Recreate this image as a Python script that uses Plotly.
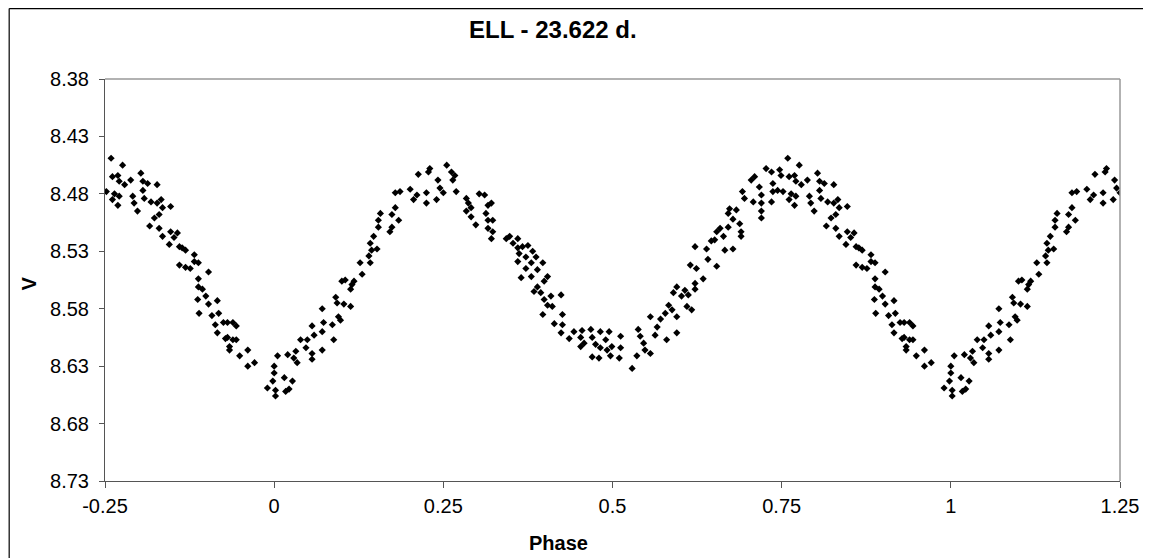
"""ELL light curve, V magnitude folded on a 23.622 d period."""

import plotly.graph_objects as go

# Phase-folded observations (one cycle, phase 0..1)
PHASE = [
    0.931, 0.939, 0.944, 0.931, 0.939, 0.944, 0.934, 0.934, 0.949, 0.961,
    0.961, 0.971, 0.998, 0.990,
    0.005, 0.000, 0.000, 0.002, 0.002, 0.015, 0.017, 0.022, 0.027, 0.020,
    0.032, 0.029, 0.034, 0.039, 0.049, 0.047, 0.056, 0.056, 0.056,
    0.059, 0.071, 0.071, 0.073, 0.086, 0.088, 0.071, 0.091, 0.093, 0.095,
    0.098, 0.103, 0.113, 0.100, 0.105, 0.115, 0.113, 0.118, 0.130, 0.127,
    0.142, 0.140, 0.144, 0.142, 0.147, 0.152, 0.157, 0.154, 0.154, 0.171,
    0.174, 0.174, 0.179, 0.184, 0.179, 0.186, 0.201, 0.206, 0.211, 0.213,
    0.225, 0.228, 0.230, 0.225, 0.240, 0.242, 0.245, 0.250, 0.255,
    0.262, 0.267, 0.264, 0.269, 0.284, 0.287, 0.284, 0.291, 0.291, 0.298,
    0.303, 0.311, 0.316, 0.321, 0.313, 0.316, 0.323, 0.316, 0.323, 0.321,
    0.343, 0.348, 0.353, 0.360, 0.360, 0.367, 0.362, 0.375, 0.372, 0.382,
    0.387, 0.380, 0.372, 0.360, 0.365, 0.380, 0.389, 0.397, 0.404, 0.399,
    0.389, 0.384, 0.394, 0.399, 0.409, 0.424, 0.404, 0.411, 0.397, 0.414,
    0.426, 0.426, 0.424, 0.436, 0.443, 0.455, 0.453, 0.458, 0.468, 0.470,
    0.475, 0.482, 0.482, 0.490, 0.492, 0.470, 0.480, 0.453,
    0.495, 0.499, 0.497, 0.512, 0.512, 0.510, 0.529, 0.536, 0.538, 0.541,
    0.546, 0.548, 0.556, 0.556, 0.563, 0.566, 0.571, 0.580, 0.578, 0.583,
    0.588, 0.595, 0.595, 0.590, 0.595, 0.602, 0.607, 0.610, 0.617, 0.612,
    0.622, 0.622, 0.634, 0.615, 0.624, 0.641, 0.654, 0.622, 0.639, 0.646,
    0.651, 0.654, 0.664, 0.666, 0.678, 0.659, 0.671, 0.673, 0.671, 0.678,
    0.683, 0.688, 0.690, 0.690, 0.692, 0.695, 0.705, 0.710, 0.708, 0.717,
    0.720, 0.720, 0.720, 0.720, 0.727, 0.735, 0.737, 0.737, 0.735,
    0.759, 0.776, 0.747, 0.749, 0.761, 0.769, 0.771, 0.779, 0.788, 0.744,
    0.752, 0.764, 0.761, 0.771, 0.769, 0.803, 0.806, 0.813, 0.806, 0.827,
    0.791, 0.793, 0.798, 0.808, 0.818, 0.827, 0.833, 0.835, 0.847, 0.830,
    0.823, 0.816, 0.830, 0.835, 0.847, 0.857, 0.852, 0.845, 0.860, 0.864,
    0.869, 0.882, 0.882, 0.860, 0.869, 0.876, 0.888, 0.903, 0.888, 0.888,
    0.894, 0.887, 0.899, 0.903, 0.916, 0.889, 0.908, 0.918, 0.913, 0.925,
    0.916, 0.928,
]
V_MAG = [
    8.592, 8.592, 8.595, 8.605, 8.607, 8.607, 8.613, 8.616, 8.621, 8.616,
    8.630, 8.627, 8.643, 8.649,
    8.621, 8.630, 8.636, 8.651, 8.656, 8.640, 8.652, 8.650, 8.643, 8.620,
    8.617, 8.623, 8.627, 8.607, 8.607, 8.614, 8.595, 8.619, 8.624,
    8.603, 8.600, 8.616, 8.592, 8.594, 8.607, 8.580, 8.570, 8.575, 8.587,
    8.590, 8.576, 8.578, 8.556, 8.555, 8.559, 8.563, 8.556, 8.550, 8.540,
    8.540, 8.534, 8.529, 8.523, 8.517, 8.528, 8.497, 8.503, 8.509, 8.513,
    8.509, 8.498, 8.492, 8.503, 8.479, 8.478, 8.476, 8.485, 8.481, 8.463,
    8.488, 8.461, 8.458, 8.479, 8.485, 8.468, 8.475, 8.479, 8.455,
    8.461, 8.464, 8.468, 8.478, 8.484, 8.488, 8.495, 8.492, 8.500, 8.507,
    8.480, 8.481, 8.490, 8.488, 8.497, 8.503, 8.503, 8.510, 8.513, 8.519,
    8.519, 8.517, 8.523, 8.519, 8.527, 8.526, 8.532, 8.525, 8.535, 8.530,
    8.535, 8.540, 8.545, 8.539, 8.553, 8.552, 8.546, 8.540, 8.552, 8.556,
    8.561, 8.565, 8.566, 8.572, 8.569, 8.568, 8.577, 8.578, 8.585, 8.593,
    8.585, 8.594, 8.601, 8.606, 8.600, 8.599, 8.605, 8.610, 8.598, 8.605,
    8.611, 8.600, 8.614, 8.607, 8.616, 8.622, 8.623, 8.613,
    8.600, 8.613, 8.621, 8.604, 8.614, 8.623, 8.632, 8.621, 8.598, 8.604,
    8.610, 8.616, 8.619, 8.587, 8.603, 8.596, 8.589, 8.607, 8.584, 8.577,
    8.581, 8.587, 8.601, 8.566, 8.561, 8.569, 8.564, 8.578, 8.581, 8.568,
    8.558, 8.563, 8.554, 8.542, 8.545, 8.537, 8.543, 8.526, 8.528, 8.521,
    8.520, 8.513, 8.517, 8.529, 8.528, 8.510, 8.509, 8.493, 8.497, 8.502,
    8.494, 8.506, 8.513, 8.517, 8.478, 8.484, 8.468, 8.465, 8.487, 8.474,
    8.481, 8.488, 8.495, 8.501, 8.458, 8.461, 8.471, 8.478, 8.487,
    8.449, 8.455, 8.459, 8.464, 8.465, 8.464, 8.469, 8.472, 8.468, 8.477,
    8.478, 8.480, 8.485, 8.482, 8.490, 8.462, 8.469, 8.471, 8.477, 8.472,
    8.482, 8.488, 8.495, 8.484, 8.487, 8.488, 8.485, 8.492, 8.491, 8.498,
    8.501, 8.508, 8.510, 8.517, 8.513, 8.514, 8.518, 8.524, 8.526, 8.527,
    8.529, 8.533, 8.539, 8.542, 8.544, 8.545, 8.540, 8.548, 8.554, 8.561,
    8.563, 8.572, 8.569, 8.576, 8.573, 8.584, 8.586, 8.584, 8.594, 8.592,
    8.601, 8.606,
]

X_TICKS = [-0.25, 0, 0.25, 0.5, 0.75, 1, 1.25]
X_LABELS = ["-0.25", "0", "0.25", "0.5", "0.75", "1", "1.25"]
Y_TICKS = [8.38, 8.43, 8.48, 8.53, 8.58, 8.63, 8.68, 8.73]
Y_LABELS = ["8.38", "8.43", "8.48", "8.53", "8.58", "8.63", "8.68", "8.73"]

TITLE = "ELL - 23.622 d."
FONT = "Liberation Sans, Arial, sans-serif"

# Show the cycle from -0.25 to 1.25: wrap the last and first quarters
x_all, y_all = list(PHASE), list(V_MAG)
for p, v in zip(PHASE, V_MAG):
    if p >= 0.75:
        x_all.append(p - 1)
        y_all.append(v)
    if p <= 0.25:
        x_all.append(p + 1)
        y_all.append(v)

fig = go.Figure()
fig.add_trace(
    go.Scatter(
        x=x_all,
        y=y_all,
        mode="markers",
        marker=dict(symbol="diamond", size=5.5, color="#000000", line=dict(width=0)),
        showlegend=False,
        hoverinfo="x+y",
    )
)

axis_common = dict(
    showgrid=False,
    zeroline=False,
    tickfont=dict(family=FONT, size=20, color="#000000"),
)

# page body adds an 8px offset: figure sized to fit the window, margins shifted
fig.update_layout(
    width=1143,
    height=550,
    margin=dict(l=97, r=25, t=71, b=77),
    paper_bgcolor="#ffffff",
    plot_bgcolor="#ffffff",
    font=dict(family=FONT, color="#000000"),
    xaxis=dict(
        range=[-0.25, 1.25],
        tickvals=X_TICKS,
        ticktext=X_LABELS,
        ticks="outside",
        ticklen=6,
        tickcolor="#555555",
        showline=True,
        linecolor="#555555",
        linewidth=1,
        ticklabelstandoff=1,
        **axis_common,
    ),
    yaxis=dict(
        range=[8.73, 8.38],
        tickvals=Y_TICKS,
        ticktext=Y_LABELS,
        ticks="outside",
        ticklen=5,
        tickcolor="#555555",
        showline=True,
        linecolor="#555555",
        linewidth=1,
        ticklabelstandoff=6,
        **axis_common,
    ),
    # inside halves of the cross tick marks
    xaxis2=dict(
        range=[-0.25, 1.25],
        tickvals=X_TICKS,
        ticks="inside",
        ticklen=6,
        tickcolor="#555555",
        showticklabels=False,
        showline=False,
        showgrid=False,
        zeroline=False,
        overlaying="x",
        anchor="y",
    ),
    yaxis2=dict(
        range=[8.73, 8.38],
        tickvals=Y_TICKS,
        ticks="inside",
        ticklen=5,
        tickcolor="#555555",
        showticklabels=False,
        showline=False,
        showgrid=False,
        zeroline=False,
        overlaying="y",
        anchor="x",
    ),
    shapes=[
        # plot area border (top and right)
        dict(type="line", xref="paper", yref="paper", x0=0, x1=1, y0=1, y1=1,
             layer="above", line=dict(color="#999999", width=1.5)),
        dict(type="line", xref="paper", yref="paper", x0=1, x1=1, y0=0, y1=1,
             layer="above", line=dict(color="#999999", width=1.5)),
        # chart frame along the figure's left and top edges
        dict(type="line", xref="paper", yref="paper", x0=-0.0944, x1=-0.0944,
             y0=-0.25, y1=1.1751, layer="above",
             line=dict(color="#000000", width=1.2)),
        dict(type="line", xref="paper", yref="paper", x0=-0.0944, x1=1.05,
             y0=1.1751, y1=1.1751, layer="above",
             line=dict(color="#000000", width=1.2)),
    ],
    annotations=[
        dict(text=f"<b>{TITLE}</b>", xref="paper", yref="paper", x=0.4417,
             y=1.1219, xanchor="center", yanchor="middle", showarrow=False,
             font=dict(family=FONT, size=24, color="#000000")),
        dict(text="<b>V</b>", xref="paper", yref="paper", x=-0.0744, y=0.4925,
             xanchor="center", yanchor="middle", textangle=-90, showarrow=False,
             font=dict(family=FONT, size=20, color="#000000")),
        dict(text="<b>Phase</b>", xref="paper", yref="paper", x=0.4466,
             y=-0.1542, xanchor="center", yanchor="middle", showarrow=False,
             font=dict(family=FONT, size=20, color="#000000")),
    ],
)

fig.write_html("out.html")
